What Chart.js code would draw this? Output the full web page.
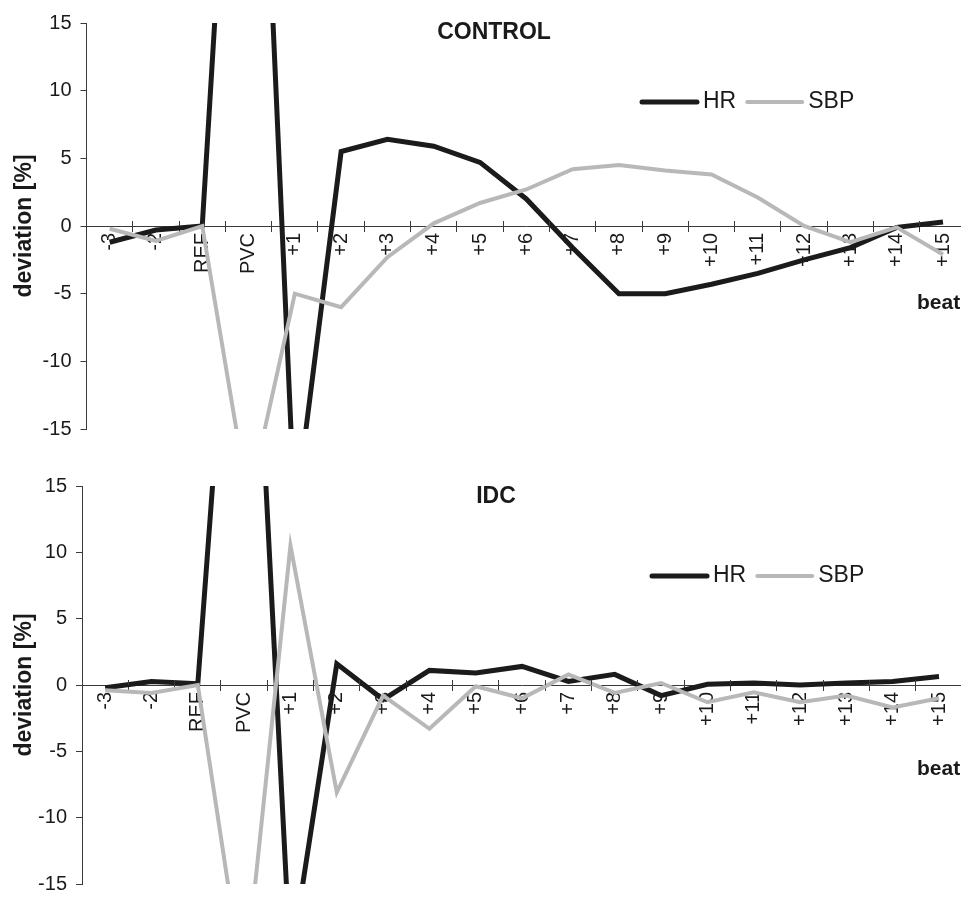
<!DOCTYPE html>
<html>
<head>
<meta charset="utf-8">
<title>HR and SBP deviation around a PVC</title>
<script src="https://cdn.jsdelivr.net/npm/chart.js@4.4.1/dist/chart.umd.min.js"></script>
<style>
    html, body { margin: 0; padding: 0; background: #fff; overflow: hidden; }
    .panel { position: absolute; left: 0; }
</style>
</head>
<body>
<canvas id="control-chart" class="panel" width="969" height="450" style="top:0"></canvas>
<canvas id="idc-chart" class="panel" width="965" height="455" style="top:450px"></canvas>
<script>
// beats around the premature ventricular contraction
const beats = ['-3', '-2', 'REF', 'PVC', '+1', '+2', '+3', '+4', '+5', '+6', '+7',
    '+8', '+9', '+10', '+11', '+12', '+13', '+14', '+15'];
const yTickValues = [-15, -10, -5, 0, 5, 10, 15];

// deviation [%] (PVC / +1 run off the scale)
const controlHR  = [-1.2, -0.3, 0, 56, -21.5, 5.5, 6.4, 5.9, 4.7, 2.0, -1.6, -5.0, -5.0, -4.3, -3.5, -2.5, -1.6, -0.1, 0.3];
const controlSBP = [-0.2, -1.1, 0, -20.4, -5.0, -6.0, -2.3, 0.2, 1.7, 2.7, 4.2, 4.5, 4.1, 3.8, 2.1, 0.0, -1.2, -0.1, -2.1];
const idcHR      = [-0.2, 0.27, 0.1, 47, -21, 1.6, -1.1, 1.1, 0.9, 1.4, 0.27, 0.8, -0.8, 0.05, 0.15, 0.0, 0.15, 0.27, 0.64];
const idcSBP     = [-0.4, -0.6, 0, -23, 10.5, -8.1, -0.8, -3.3, -0.1, -1.0, 0.8, -0.6, 0.15, -1.3, -0.55, -1.3, -0.8, -1.7, -1.0];

const family = "'Liberation Sans', Arial, Helvetica, sans-serif";
const ink = '#1a1a1a';
const axisColor = '#3a3a3a';
Chart.defaults.font.family = family;

// tick marks above the zero line too (Excel "cross" ticks)
const crossTicks = {
    id: 'crossTicks',
    afterDraw(chart) {
        const xs = chart.scales.x;
        const y0 = chart.scales.y.getPixelForValue(0);
        const step = xs.width / xs.ticks.length;
        const ctx = chart.ctx;
        ctx.save();
        ctx.strokeStyle = axisColor;
        ctx.lineWidth = 1;
        ctx.beginPath();
        for (let i = 1; i <= xs.ticks.length; i++) {
            const x = Math.round(xs.left + i * step - 0.5) + 0.5;
            ctx.moveTo(x, y0 - 5);
            ctx.lineTo(x, y0);
        }
        ctx.stroke();
        ctx.restore();
    }
};

// panel title, in-plot legend and the "beat" axis caption
const panelText = {
    id: 'panelText',
    afterDraw(chart, args, opts) {
        const ctx = chart.ctx;
        ctx.save();
        ctx.fillStyle = ink;
        ctx.textBaseline = 'middle';

        ctx.font = 'bold 23px ' + family;
        ctx.textAlign = 'center';
        ctx.fillText(opts.title, opts.titleX, opts.titleY);

        ctx.font = 'bold 21px ' + family;
        ctx.textAlign = 'left';
        ctx.fillText('beat', opts.beatX, opts.beatY);

        ctx.font = '23px ' + family;
        let x = opts.legendX;
        chart.data.datasets.forEach(ds => {
            ctx.strokeStyle = ds.borderColor;
            ctx.lineWidth = ds.borderWidth;
            ctx.lineCap = 'round';
            ctx.beginPath();
            ctx.moveTo(x, opts.legendY);
            ctx.lineTo(x + 55, opts.legendY);
            ctx.stroke();
            x += 61;
            ctx.fillText(ds.label, x, opts.legendY);
            x += ctx.measureText(ds.label).width + 11;
        });
        ctx.restore();
    }
};

function renderPanel(canvasId, hr, sbp, layout) {
    const ctx = document.getElementById(canvasId).getContext('2d');
    const tickFont = { size: 20, family: family };

    return new Chart(ctx, {
        type: 'line',
        data: {
            labels: beats,
            datasets: [
                {
                    label: 'HR',
                    data: hr,
                    borderColor: '#1b1b1b',
                    borderWidth: 5,
                    clip: 0,
                    order: 1
                },
                {
                    label: 'SBP',
                    data: sbp,
                    borderColor: '#b8b8b8',
                    borderWidth: 4,
                    clip: 0,
                    order: 0
                }
            ]
        },
        options: {
            responsive: false,
            animation: false,
            layout: {
                padding: { top: layout.top, bottom: layout.bottom, left: 0, right: 0 }
            },
            elements: {
                point: { radius: 0 },
                line: { tension: 0 }
            },
            plugins: {
                legend: { display: false },
                tooltip: { enabled: false },
                panelText: layout.text
            },
            scales: {
                x: {
                    type: 'category',
                    position: { y: 0 },
                    offset: true,
                    grid: {
                        offset: true,
                        drawOnChartArea: false,
                        tickLength: 5,
                        color: axisColor
                    },
                    border: { color: axisColor, width: 1 },
                    ticks: {
                        autoSkip: false,
                        minRotation: 90,
                        maxRotation: 90,
                        padding: 2,
                        color: ink,
                        font: tickFont
                    }
                },
                y: {
                    min: -15,
                    max: 15,
                    afterBuildTicks: function(scale) {
                        scale.ticks = yTickValues.map(v => ({ value: v }));
                    },
                    afterFit: function(scale) {
                        scale.width = layout.axisLeft;
                    },
                    grid: {
                        drawOnChartArea: false,
                        tickLength: 6,
                        color: axisColor
                    },
                    border: { color: axisColor, width: 1 },
                    ticks: {
                        padding: 9,
                        color: ink,
                        font: tickFont
                    },
                    title: {
                        display: true,
                        text: 'deviation [%]',
                        color: ink,
                        font: { size: 23, weight: 'bold', family: family },
                        padding: { top: 11, bottom: 0 }
                    }
                }
            }
        },
        plugins: [crossTicks, panelText]
    });
}

renderPanel('control-chart', controlHR, controlSBP, {
    top: 23, bottom: 20, axisLeft: 86.5,
    text: { title: 'CONTROL', titleX: 494, titleY: 33, legendX: 642, legendY: 102, beatX: 917, beatY: 303 }
});

renderPanel('idc-chart', idcHR, idcSBP, {
    top: 36, bottom: 12.3, axisLeft: 82,
    text: { title: 'IDC', titleX: 496, titleY: 47, legendX: 652, legendY: 126, beatX: 917, beatY: 319 }
});
</script>
</body>
</html>
